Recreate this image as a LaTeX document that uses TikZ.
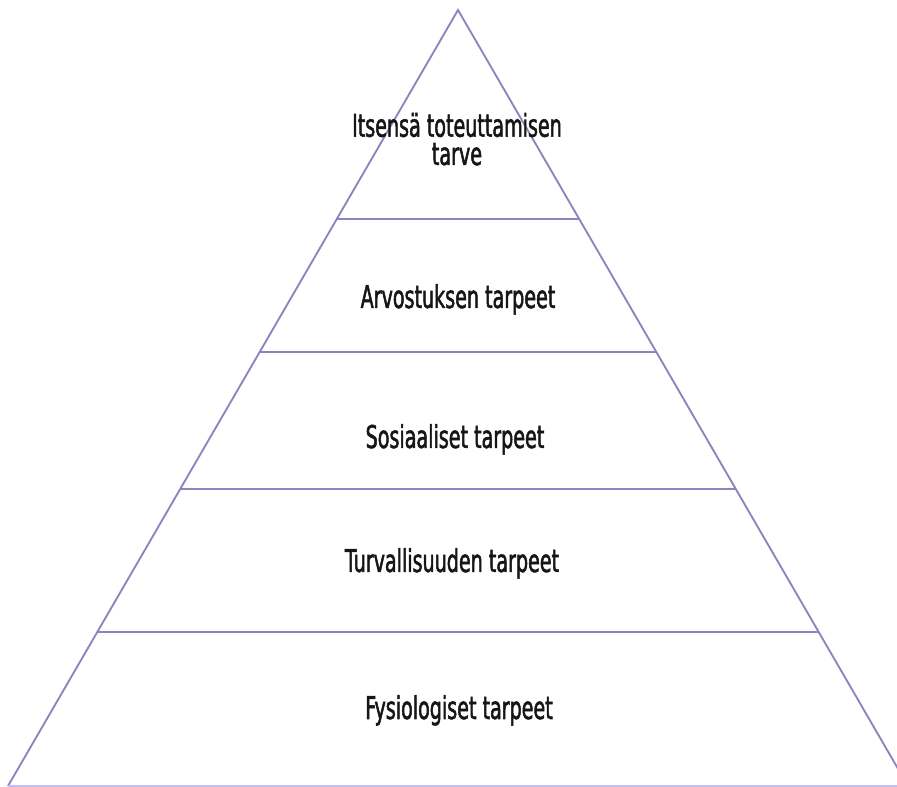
\documentclass[tikz,border=0pt]{standalone}
\usepackage{fontspec}
\setmainfont{DejaVu Sans}[FakeStretch=0.61, FakeBold=1.6]
\usepackage{xcolor}
\usetikzlibrary{calc}

\definecolor{pyrline}{RGB}{140,132,190}
\definecolor{pyrbase}{RGB}{196,190,238}
\definecolor{pyrtext}{RGB}{22,22,22}

\begin{document}
\begin{tikzpicture}[
  x=0.75pt, y=-0.75pt,
  edge/.style={draw=pyrline, line width=1.4pt},
  floor/.style={draw=pyrbase, line width=1.4pt},
  level/.style={anchor=base, align=center, text=pyrtext, inner sep=0pt,
    font=\fontsize{23.5}{21.2}\selectfont}
]
\useasboundingbox (0,0) rectangle (897,787);

% outline
\coordinate (apex) at (458,10);
\coordinate (bl) at (8,786);
\coordinate (br) at (908,786);
\draw[edge] (bl) -- (apex) -- (br);
\draw[floor] (bl) -- (br);

% layer dividers
\foreach \p in {0.2693, 0.4407, 0.6173, 0.8015}
  \draw[edge] ($(apex)!\p!(bl)$) -- ($(apex)!\p!(br)$);

% labels
\node[level] (self) at (457,165) {Itsensä toteuttamisen\\tarve};
\node[level] (esteem) at (458,308) {Arvostuksen tarpeet};
\node[level] (social) at (455,448) {Sosiaaliset tarpeet};
\node[level] (safety) at (452,572) {Turvallisuuden tarpeet};
\node[level] (body) at (459,719) {Fysiologiset tarpeet};
\end{tikzpicture}
\end{document}
